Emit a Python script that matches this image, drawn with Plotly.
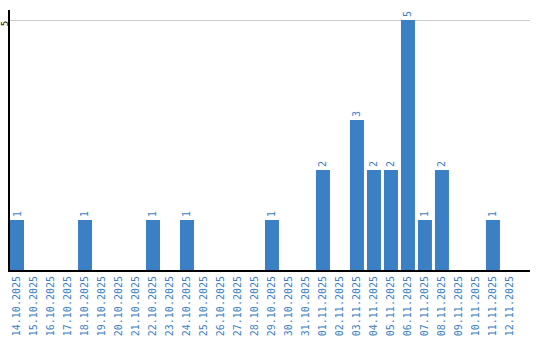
import plotly.graph_objects as go

dates = ["14.10.2025","15.10.2025","16.10.2025","17.10.2025","18.10.2025","19.10.2025",
         "20.10.2025","21.10.2025","22.10.2025","23.10.2025","24.10.2025","25.10.2025",
         "26.10.2025","27.10.2025","28.10.2025","29.10.2025","30.10.2025","31.10.2025",
         "01.11.2025","02.11.2025","03.11.2025","04.11.2025","05.11.2025","06.11.2025",
         "07.11.2025","08.11.2025","09.11.2025","10.11.2025","11.11.2025","12.11.2025"]
counts = [1,0,0,0,1,0,0,0,1,0,1,0,0,0,0,1,0,0,2,0,3,2,2,5,1,2,0,0,1,0]

blue = "#3B7FC4"
labels = [str(v) if v > 0 else "" for v in counts]

fig = go.Figure(go.Bar(
    x=dates, y=counts, marker=dict(color=blue, line=dict(width=0)),
    width=0.8235, text=labels, textposition="outside", textangle=-90,
    textfont=dict(color=blue, size=10, family="DejaVu Sans Mono"),
    cliponaxis=False, hoverinfo="skip"))

fig.update_layout(
    width=540, height=340, margin=dict(l=10, r=10, t=10, b=70),
    plot_bgcolor="white", paper_bgcolor="white", showlegend=False,
    xaxis=dict(type="category", range=[-0.4118, 30.18], tickangle=-90,
               tickfont=dict(color=blue, size=10, family="DejaVu Sans Mono"),
               showgrid=False, showline=True, linecolor="black", linewidth=2,
               ticks="", ticklen=0, automargin=False),
    yaxis=dict(range=[0, 5.2], tickvals=[5], ticktext=["5"], tickangle=-90,
               tickfont=dict(color="black", size=9, family="DejaVu Sans Mono"),
               showgrid=True, gridcolor="#CCCCCC", gridwidth=1,
               showline=True, linecolor="black", linewidth=2, zeroline=False,
               ticks="", automargin=False, ticklabelstandoff=-4,
               ticklabelshift=5),
)
fig.write_html("out.html")
